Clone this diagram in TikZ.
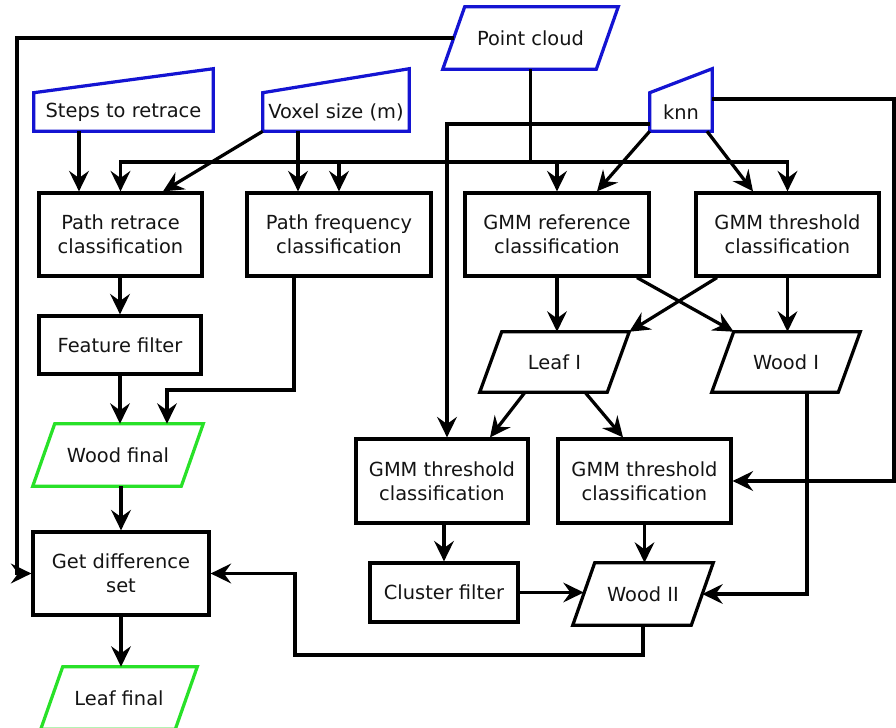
\documentclass[tikz,border=0pt]{standalone}
\usepackage{fontspec}
\setmainfont{DejaVu Sans}
\usetikzlibrary{arrows.meta,calc}
\definecolor{inblue}{RGB}{20,20,210}
\definecolor{outgreen}{RGB}{40,225,40}
\definecolor{txt}{RGB}{20,20,20}
\newcommand\pxl{0.025cm}
\newcommand\parashape[2]{\draw[#2,line width=2.3pt,line join=miter] ([xshift=22*\pxl]#1.north west) -- (#1.north east) -- ([xshift=-22*\pxl]#1.south east) -- (#1.south west) -- cycle;}
\newcommand\manshape[2]{\draw[inblue,line width=2.3pt,line join=miter] (#1.south west) -- (#1.north west) -- ([yshift=#2*\pxl]#1.north east) -- (#1.south east) -- cycle;}
\begin{document}
\begin{tikzpicture}[x=0.025cm,y=-0.025cm,
  font=\fontsize{13.8}{17}\selectfont,
  box/.style={draw=black,line width=2.3pt,inner sep=0pt,align=center,text=txt},
  shp/.style={inner sep=0pt,align=center,text=txt},
  arr/.style={line width=2.3pt,-{Stealth[length=14.5pt,width=14pt,inset=5pt]}},
  ln/.style={line width=2.3pt}]
\useasboundingbox (0,0) rectangle (896,728);

% input shapes
\node[shp,minimum width={175*\pxl},minimum height={62*\pxl}] (PC) at (530.5,38) {Point cloud};
\parashape{PC}{inblue}
\node[shp,minimum width={179*\pxl},minimum height={38*\pxl}] (ST) at (123.5,112) {Steps to retrace};
\manshape{ST}{24}
\node[shp,minimum width={146*\pxl},minimum height={38*\pxl}] (VS) at (336,112) {Voxel size (m)};
\manshape{VS}{24}
\node[shp,minimum width={62*\pxl},minimum height={38*\pxl}] (KN) at (681,112) {knn};
\manshape{KN}{24}

% boxes
\node[box,minimum width={163*\pxl},minimum height={83*\pxl}] (PR) at (120.5,234.5) {Path retrace\\classification};
\node[box,minimum width={184*\pxl},minimum height={83*\pxl}] (PF) at (339,234.5) {Path frequency\\classification};
\node[box,minimum width={184*\pxl},minimum height={83*\pxl}] (GR) at (557,234.5) {GMM reference\\classification};
\node[box,minimum width={183*\pxl},minimum height={83*\pxl}] (GT) at (787.5,234.5) {GMM threshold\\classification};
\node[box,minimum width={162*\pxl},minimum height={58*\pxl}] (FF) at (120,345) {Feature filter};
\node[box,minimum width={176*\pxl},minimum height={83*\pxl}] (GD) at (121,573.5) {Get difference\\set};
\node[box,minimum width={172*\pxl},minimum height={84*\pxl}] (GL) at (442,481) {GMM threshold\\classification};
\node[box,minimum width={173*\pxl},minimum height={84*\pxl}] (GLR) at (644.5,481) {GMM threshold\\classification};
\node[box,minimum width={148*\pxl},minimum height={59*\pxl}] (CF) at (444,592.5) {Cluster filter};

% data shapes
\node[shp,minimum width={149*\pxl},minimum height={60*\pxl}] (LI) at (554.5,362) {Leaf I};
\parashape{LI}{black}
\node[shp,minimum width={148*\pxl},minimum height={60*\pxl}] (WI) at (786,362) {Wood I};
\parashape{WI}{black}
\node[shp,minimum width={170*\pxl},minimum height={62*\pxl}] (WF) at (118,455) {Wood final};
\parashape{WF}{outgreen}
\node[shp,minimum width={140*\pxl},minimum height={62*\pxl}] (W2) at (643,594) {Wood II};
\parashape{W2}{black}
\node[shp,minimum width={156*\pxl},minimum height={62*\pxl}] (LF) at (119,698) {Leaf final};
\parashape{LF}{outgreen}

% helper coordinates
\coordinate (LX) at (17,0);
\coordinate (RX) at (894,0);
\coordinate (bus) at (530.5,162);
\coordinate (pfj) at (167,390);
\coordinate (bj) at (295,655);

% connectors
\draw[arr] ([xshift=11*\pxl]PC.west) -| (LX |- GD.west) -- (GD.west);
\draw[arr] ([xshift=-44.5*\pxl]ST.south) -- ([xshift=-44.5*\pxl]ST.south |- PR.north);
\draw[ln] (PC.south) -- (bus);
\draw[arr] (bus) -| (PR.north);
\draw[arr] (bus) -| (GT.north);
\draw[arr] (bus -| PF.north) -- (PF.north);
\draw[arr] (bus -| GR.north) -- (GR.north);
\draw[arr] (VS.south west) -- ([xshift=42.5*\pxl]PR.north);
\draw[arr] ([xshift=-38*\pxl]VS.south) -- ([xshift=-38*\pxl]VS.south |- PF.north);
\draw[arr] (KN.south west) -- ([xshift=40*\pxl]GR.north);
\draw[arr] ([xshift=26*\pxl]KN.south) -- ([xshift=-34.5*\pxl]GT.north);
\draw[arr] ([yshift=-12*\pxl]KN.west) -| ([xshift=5*\pxl]GL.north);
\draw[arr] ([yshift=13*\pxl]KN.east) -| (RX |- GLR.east) -- (GLR.east);
\draw[arr] (PR.south -| FF.north) -- (FF.north);
\draw[arr] (FF.south) -- (FF.south |- WF.north);
\draw[arr] ([xshift=-45*\pxl]PF.south) |- (pfj) -- (pfj |- WF.north);
\draw[arr] (WF.south -| GD.north) -- (GD.north);
\draw[arr] (GD.south) -- (GD.south |- LF.north);
\draw[arr] (GR.south) -- (GR.south |- LI.north);
\draw[arr] (GT.south) -- (GT.south |- WI.north);
\draw[arr] ([xshift=80*\pxl]GR.south) -- ([xshift=22*\pxl]WI.north west);
\draw[arr] ([xshift=-70.5*\pxl]GT.south) -- (LI.north east);
\draw[arr] ([xshift=-29.5*\pxl]LI.south) -- ([xshift=48*\pxl]GL.north);
\draw[arr] ([xshift=30.5*\pxl]LI.south) -- ([xshift=-21.5*\pxl]GLR.north);
\draw[arr] (GL.south -| CF.north) -- (CF.north);
\draw[arr] (GLR.south) -- (GLR.south |- W2.north);
\draw[arr] (CF.east) -- ([xshift=11*\pxl]W2.west |- CF.east);
\draw[arr] ([xshift=21*\pxl]WI.south) |- ([xshift=-11*\pxl]W2.east);
\draw[arr] (W2.south) |- (bj) |- (GD.east);
\end{tikzpicture}
\end{document}
